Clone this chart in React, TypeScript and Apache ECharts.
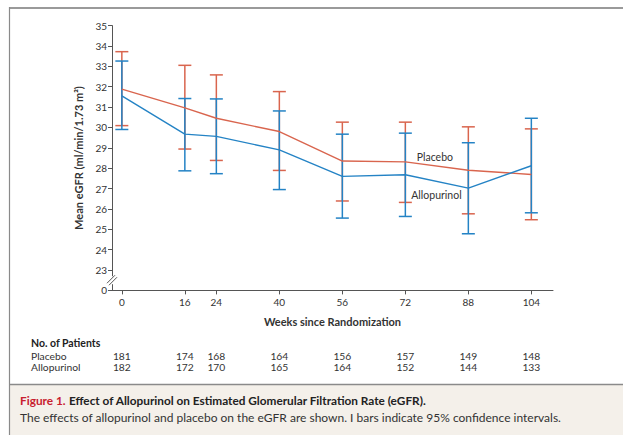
import React, { useEffect, useRef } from "react";
import * as echarts from "echarts";

const weeks = [0, 16, 24, 40, 56, 72, 88, 104];
const placeboMean = [31.88, 30.96, 30.45, 29.8, 28.35, 28.31, 27.9, 27.69];
const placeboLow = [30.09, 28.94, 28.38, 27.89, 26.39, 26.32, 25.76, 25.47];
const placeboHigh = [33.72, 33.05, 32.58, 31.76, 30.26, 30.26, 30.03, 29.93];
const alloMean = [31.55, 29.67, 29.56, 28.9, 27.6, 27.68, 27.02, 28.12];
const alloLow = [29.9, 27.87, 27.73, 26.95, 25.55, 25.63, 24.78, 25.81];
const alloHigh = [33.26, 31.42, 31.4, 30.81, 29.67, 29.72, 29.25, 30.45];
const placeboN = [181, 174, 168, 164, 156, 157, 149, 148];
const alloN = [182, 172, 170, 165, 164, 152, 144, 133];
const yBreakValue = 22; // shown as "0" below the axis break
const yTop = 35;

const RED = "#d9654e";
const BLUE = "#2483c5";
const TEXT = "#333333";
const FONT = "Lato, 'Open Sans', sans-serif";

function errorBars(color: string, low: number[], high: number[]) {
  return {
    type: "custom",
    z: 3,
    data: weeks.map((w, i) => [w, low[i], high[i]]),
    renderItem: (params: any, api: any) => {
      const x = api.value(0);
      const lo = api.coord([x, api.value(1)]);
      const hi = api.coord([x, api.value(2)]);
      const hw = 6.5;
      const style = { stroke: color, lineWidth: 1.5 };
      return {
        type: "group",
        children: [
          { type: "line", shape: { x1: lo[0], y1: lo[1], x2: hi[0], y2: hi[1] }, style },
          { type: "line", shape: { x1: lo[0] - hw, y1: lo[1], x2: lo[0] + hw, y2: lo[1] }, style },
          { type: "line", shape: { x1: hi[0] - hw, y1: hi[1], x2: hi[0] + hw, y2: hi[1] }, style },
        ],
      };
    },
  };
}

export default function App() {
  const ref = useRef<HTMLDivElement>(null);
  useEffect(() => {
    if (!ref.current) return;
    const chart = echarts.init(ref.current, null, { renderer: "svg" });
    chart.setOption({
      animation: false,
      textStyle: { fontFamily: FONT, color: TEXT },
      grid: { left: 112, top: 25.6, right: 70, bottom: 144.6, containLabel: false },
      xAxis: {
        type: "value",
        min: -2.5,
        max: 109.5,
        splitLine: { show: false },
        axisLine: { onZero: false, lineStyle: { color: "#555", width: 1 } },
        axisTick: { customValues: weeks, length: 4, lineStyle: { color: "#555" } },
        axisLabel: { customValues: weeks, fontSize: 10, color: TEXT, margin: 7, fontFamily: FONT },
        name: "Weeks since Randomization",
        nameLocation: "middle",
        nameGap: 26,
        nameTextStyle: { fontSize: 11, fontWeight: "bold", color: TEXT, fontFamily: FONT },
      },
      yAxis: {
        type: "value",
        min: yBreakValue,
        max: yTop,
        interval: 1,
        splitLine: { show: false },
        axisLine: { show: true, onZero: false, lineStyle: { color: "#555", width: 1 } },
        axisTick: { show: true, length: 4, lineStyle: { color: "#555" } },
        axisLabel: {
          fontSize: 10,
          color: TEXT,
          margin: 5,
          fontFamily: FONT,
          formatter: (v: number) => (v === yBreakValue ? "0" : String(v)),
        },
        name: "Mean eGFR (ml/min/1.73 m²)",
        nameLocation: "middle",
        nameGap: 21,
        nameTextStyle: { fontSize: 11, fontWeight: "bold", color: TEXT, fontFamily: FONT },
      },
      series: [
        errorBars(RED, placeboLow, placeboHigh),
        errorBars(BLUE, alloLow, alloHigh),
        {
          type: "line",
          name: "Placebo",
          z: 4,
          data: weeks.map((w, i) => [w, placeboMean[i]]),
          symbol: "none",
          lineStyle: { color: RED, width: 1.4 },
        },
        {
          type: "line",
          name: "Allopurinol",
          z: 4,
          data: weeks.map((w, i) => [w, alloMean[i]]),
          symbol: "none",
          lineStyle: { color: BLUE, width: 1.4 },
        },
      ],
    });

    const px = (x: number, y: number) => chart.convertToPixel({ gridIndex: 0 }, [x, y]) as number[];
    const axisX = px(-2.5, 22)[0];
    const brk = px(-2.5, 22.5)[1];
    const graphic: any[] = [];

    // frame
    graphic.push({ type: "rect", shape: { x: 10, y: 385, width: 613, height: 50 }, style: { fill: "#f4f0ea" }, z: 0 });
    graphic.push({ type: "line", shape: { x1: 9, y1: 8, x2: 623, y2: 8 }, style: { stroke: "#9a9a9a", lineWidth: 2 } });
    graphic.push({ type: "line", shape: { x1: 9.5, y1: 7, x2: 9.5, y2: 435 }, style: { stroke: "#8a8a8a", lineWidth: 1.2 } });
    graphic.push({ type: "line", shape: { x1: 9, y1: 384.5, x2: 623, y2: 384.5 }, style: { stroke: "#8a8a8a", lineWidth: 1.4 } });

    // axis break
    graphic.push({ type: "rect", shape: { x: axisX - 2, y: brk - 4, width: 4, height: 8 }, style: { fill: "#fff" }, z: 10 });
    graphic.push({ type: "line", shape: { x1: axisX - 5, y1: brk + 3, x2: axisX + 3, y2: brk - 5 }, style: { stroke: "#555", lineWidth: 1 }, z: 11 });
    graphic.push({ type: "line", shape: { x1: axisX - 3, y1: brk + 5, x2: axisX + 5, y2: brk - 3 }, style: { stroke: "#555", lineWidth: 1 }, z: 11 });

    // series labels
    const pl = px(79.5, 28.56);
    const al = px(79.9, 26.7);
    graphic.push({ type: "text", x: pl[0], y: pl[1], style: { text: "Placebo", fill: TEXT, font: `10.5px ${FONT}`, align: "center", verticalAlign: "middle" } });
    graphic.push({ type: "text", x: al[0], y: al[1], style: { text: "Allopurinol", fill: TEXT, font: `10.5px ${FONT}`, align: "center", verticalAlign: "middle" } });

    // patient table
    graphic.push({ type: "text", x: 31, y: 343, style: { text: "No. of Patients", fill: "#222", font: `bold 10.5px ${FONT}`, verticalAlign: "middle" } });
    graphic.push({ type: "text", x: 31, y: 355.5, style: { text: "Placebo", fill: TEXT, font: `10.3px ${FONT}`, verticalAlign: "middle" } });
    graphic.push({ type: "text", x: 31, y: 367, style: { text: "Allopurinol", fill: TEXT, font: `10.3px ${FONT}`, verticalAlign: "middle" } });
    weeks.forEach((w, i) => {
      const x = px(w, 30)[0];
      graphic.push({ type: "text", x, y: 355.5, style: { text: String(placeboN[i]), fill: TEXT, font: `10.3px ${FONT}`, align: "center", verticalAlign: "middle" } });
      graphic.push({ type: "text", x, y: 367, style: { text: String(alloN[i]), fill: TEXT, font: `10.3px ${FONT}`, align: "center", verticalAlign: "middle" } });
    });

    // caption
    graphic.push({
      type: "text",
      x: 20,
      y: 400,
      style: {
        text: "{r|Figure 1.} {b|Effect of Allopurinol on Estimated Glomerular Filtration Rate (eGFR).}",
        verticalAlign: "middle",
        rich: {
          r: { fill: "#c8202f", font: `bold 11.8px ${FONT}` },
          b: { fill: "#222", font: `bold 11.8px ${FONT}` },
        },
      },
    });
    graphic.push({
      type: "text",
      x: 20,
      y: 417,
      style: {
        text: "The effects of allopurinol and placebo on the eGFR are shown. I bars indicate 95% confidence intervals.",
        fill: TEXT,
        font: `12px ${FONT}`,
        verticalAlign: "middle",
      },
    });

    chart.setOption({ graphic });
    return () => chart.dispose();
  }, []);
  return <div ref={ref} style={{ position: "absolute", left: 0, top: 0, width: 623, height: 435 }} />;
}
